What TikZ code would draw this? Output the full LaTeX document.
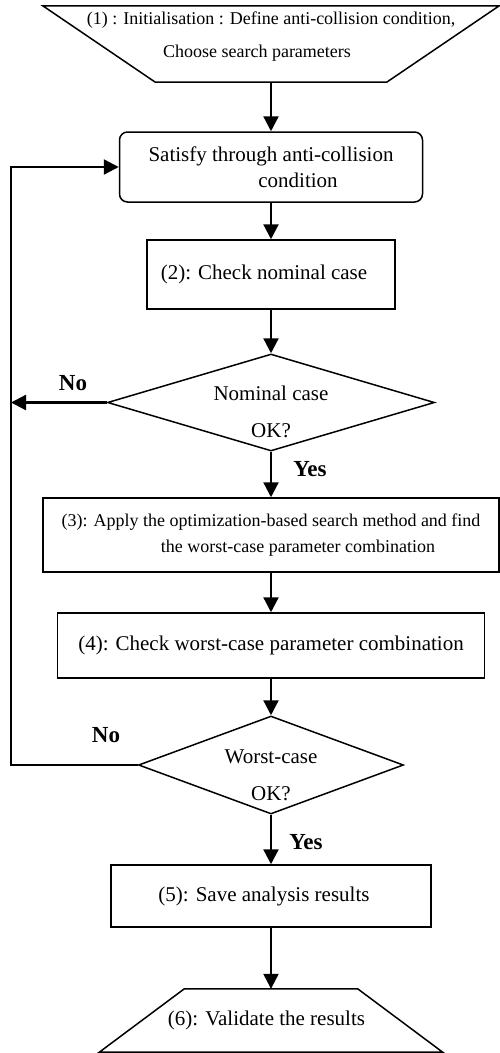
\documentclass[tikz,border=0pt]{standalone}
\usepackage{fontspec}
\setmainfont{Liberation Serif}
\usetikzlibrary{shapes.geometric,arrows.meta}

\begin{document}
\begin{tikzpicture}[x=1pt,y=-1pt,
		flow/.style={line width=2.3pt,-{Triangle[length=15pt,width=15pt]}},
		outline/.style={line width=1.5pt,line join=miter},
		procbox/.style={draw,outline,rectangle,align=center,inner sep=0pt,font=\fontsize{21}{26}\selectfont},
		roundbox/.style={procbox,rounded corners=8pt},
		decision/.style={draw,outline,diamond,inner xsep=0pt,inner ysep=-10pt,align=center,font=\fontsize{21}{37}\selectfont},
		iobox/.style={rectangle,inner sep=0pt,align=center},
		answer/.style={font=\fontsize{23}{26}\selectfont\bfseries}]
		\useasboundingbox (0,0) rectangle (500,1053);
		\node[iobox,font=\fontsize{18}{33}\selectfont,minimum width=456pt,minimum height=76pt] (init) at (271,44) {(1) : Initialisation : Define anti-collision condition,\\Choose search parameters\hspace*{28pt}\rule[-18pt]{0pt}{18pt}};
		\draw[outline] (init.north west) -- (init.north east) -- ([xshift=-112.5pt]init.south east) -- ([xshift=112.5pt]init.south west) -- cycle;
		\node[roundbox,minimum width=303pt,minimum height=70pt] (satisfy) at (271,167) {Satisfy through anti-collision\\\hspace*{54pt}condition};
		\node[procbox,minimum width=248pt,minimum height=69pt] (nominal) at (271,274.5) {(2): Check nominal case\hspace*{14pt}};
		\node[decision,aspect=3.37,minimum width=327pt,minimum height=97pt] (nomok) at (271,402.5) {\rule{0pt}{34pt}Nominal case\\OK?};
		\node[procbox,font=\fontsize{18}{26}\selectfont,minimum width=456pt,minimum height=74pt] (search) at (271,535) {(3): Apply the optimization-based search method and find\\\hspace*{54pt}the worst-case parameter combination};
		\node[procbox,minimum width=427pt,minimum height=65pt] (worst) at (271,645.5) {(4): Check worst-case parameter combination};
		\node[decision,aspect=2.7,minimum width=265pt,minimum height=98pt] (worstok) at (271,765) {\rule{0pt}{34pt}Worst-case\\OK?};
		\node[procbox,minimum width=320pt,minimum height=62pt] (save) at (271,896) {(5): Save analysis results\hspace*{14pt}};
		\node[iobox,font=\fontsize{21}{26}\selectfont,minimum width=343pt,minimum height=63pt] (validate) at (271,1020.5) {(6): Validate the results\hspace*{9pt}};
		\draw[outline] (validate.south west) -- (validate.south east) -- ([xshift=-85pt]validate.north east) -- ([xshift=85pt]validate.north west) -- cycle;
		\coordinate (back) at (11,0);
		\draw[flow] (init) -- (satisfy);
		\draw[flow] (satisfy) -- (nominal);
		\draw[flow] (nominal) -- (nomok);
		\draw[flow] (nomok) -- (search);
		\draw[flow] (search) -- (worst);
		\draw[flow] (worst) -- (worstok);
		\draw[flow] (worstok) -- (save);
		\draw[flow] (save) -- (validate);
		\draw[flow] (nomok.west) -- (nomok.west -| back);
		\draw[flow] (worstok.west) -| (back |- satisfy.west) -- (satisfy.west);
		\node[answer] (nonom) at (73,383) {No};
		\node[answer] (yesnom) at (310,469) {Yes};
		\node[answer] (noworst) at (106,735) {No};
		\node[answer] (yesworst) at (306,842) {Yes};
	\end{tikzpicture}
\end{document}
